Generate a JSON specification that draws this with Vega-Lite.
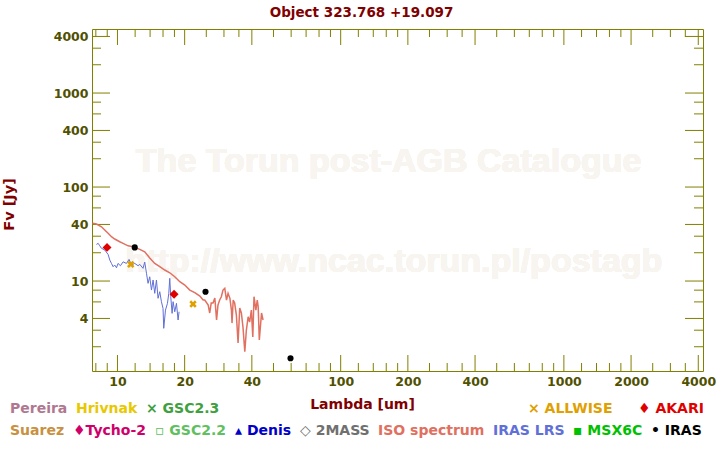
{
  "$schema": "https://vega.github.io/schema/vega-lite/v6.json",
  "autosize": {"type": "none"},
  "width": 611,
  "height": 342,
  "padding": {"left": 92, "top": 29, "right": 17, "bottom": 79},
  "background": "white",
  "config": {"view": {"stroke": "#808000", "strokeWidth": 1}, "font": "DejaVu Sans"},
  "title": {"text": "Object 323.768 +19.097", "color": "#800000", "font": "DejaVu Sans", "fontSize": 13.5, "fontWeight": "bold", "anchor": "middle", "dx": -36, "offset": 8},
  "data": {"values": [
    {"source": "ISO spectrum", "lambda": 7.73, "flux": 41.1},
    {"source": "ISO spectrum", "lambda": 8.05, "flux": 40.4},
    {"source": "ISO spectrum", "lambda": 8.48, "flux": 37.8},
    {"source": "ISO spectrum", "lambda": 8.77, "flux": 34.9},
    {"source": "ISO spectrum", "lambda": 9.08, "flux": 32.2},
    {"source": "ISO spectrum", "lambda": 9.40, "flux": 29.6},
    {"source": "ISO spectrum", "lambda": 9.72, "flux": 28.0},
    {"source": "ISO spectrum", "lambda": 10.24, "flux": 26.2},
    {"source": "ISO spectrum", "lambda": 10.6, "flux": 25.2},
    {"source": "ISO spectrum", "lambda": 11.16, "flux": 23.7},
    {"source": "ISO spectrum", "lambda": 11.75, "flux": 23.2},
    {"source": "ISO spectrum", "lambda": 12.59, "flux": 21.7},
    {"source": "ISO spectrum", "lambda": 13.25, "flux": 20.5},
    {"source": "ISO spectrum", "lambda": 13.95, "flux": 17.6},
    {"source": "ISO spectrum", "lambda": 14.69, "flux": 15.4},
    {"source": "ISO spectrum", "lambda": 15.47, "flux": 14.2},
    {"source": "ISO spectrum", "lambda": 16.29, "flux": 13.1},
    {"source": "ISO spectrum", "lambda": 17.15, "flux": 12.25},
    {"source": "ISO spectrum", "lambda": 18.06, "flux": 11.1},
    {"source": "ISO spectrum", "lambda": 19.02, "flux": 9.83},
    {"source": "ISO spectrum", "lambda": 20.03, "flux": 9.07},
    {"source": "ISO spectrum", "lambda": 21.09, "flux": 8.02},
    {"source": "ISO spectrum", "lambda": 22.2, "flux": 7.54},
    {"source": "ISO spectrum", "lambda": 23.4, "flux": 6.92},
    {"source": "ISO spectrum", "lambda": 24.2, "flux": 6.28},
    {"source": "ISO spectrum", "lambda": 24.6, "flux": 6.28},
    {"source": "ISO spectrum", "lambda": 25.5, "flux": 5.55},
    {"source": "ISO spectrum", "lambda": 25.9, "flux": 4.57},
    {"source": "ISO spectrum", "lambda": 26.3, "flux": 5.83},
    {"source": "ISO spectrum", "lambda": 26.8, "flux": 5.83},
    {"source": "ISO spectrum", "lambda": 27.3, "flux": 6.6},
    {"source": "ISO spectrum", "lambda": 27.8, "flux": 3.85},
    {"source": "ISO spectrum", "lambda": 28.2, "flux": 5.55},
    {"source": "ISO spectrum", "lambda": 28.7, "flux": 6.28},
    {"source": "ISO spectrum", "lambda": 29.2, "flux": 6.81},
    {"source": "ISO spectrum", "lambda": 29.7, "flux": 8.02},
    {"source": "ISO spectrum", "lambda": 30.25, "flux": 8.36},
    {"source": "ISO spectrum", "lambda": 30.8, "flux": 6.28},
    {"source": "ISO spectrum", "lambda": 31.3, "flux": 7.4},
    {"source": "ISO spectrum", "lambda": 31.9, "flux": 6.55},
    {"source": "ISO spectrum", "lambda": 32.4, "flux": 4.91},
    {"source": "ISO spectrum", "lambda": 32.6, "flux": 3.57},
    {"source": "ISO spectrum", "lambda": 33.0, "flux": 6.28},
    {"source": "ISO spectrum", "lambda": 33.5, "flux": 5.83},
    {"source": "ISO spectrum", "lambda": 34.1, "flux": 4.35},
    {"source": "ISO spectrum", "lambda": 34.7, "flux": 2.19},
    {"source": "ISO spectrum", "lambda": 35.3, "flux": 5.16},
    {"source": "ISO spectrum", "lambda": 35.9, "flux": 4.57},
    {"source": "ISO spectrum", "lambda": 36.5, "flux": 3.24},
    {"source": "ISO spectrum", "lambda": 37.2, "flux": 1.77},
    {"source": "ISO spectrum", "lambda": 37.8, "flux": 3.01},
    {"source": "ISO spectrum", "lambda": 38.5, "flux": 4.17},
    {"source": "ISO spectrum", "lambda": 39.1, "flux": 3.66},
    {"source": "ISO spectrum", "lambda": 39.8, "flux": 4.91},
    {"source": "ISO spectrum", "lambda": 40.4, "flux": 2.54},
    {"source": "ISO spectrum", "lambda": 40.9, "flux": 6.81},
    {"source": "ISO spectrum", "lambda": 41.7, "flux": 4.91},
    {"source": "ISO spectrum", "lambda": 42.3, "flux": 6.28},
    {"source": "ISO spectrum", "lambda": 42.7, "flux": 5.33},
    {"source": "ISO spectrum", "lambda": 43.2, "flux": 2.36},
    {"source": "ISO spectrum", "lambda": 44.2, "flux": 4.57},
    {"source": "ISO spectrum", "lambda": 44.9, "flux": 3.85},
    {"source": "IRAS LRS", "lambda": 8.05, "flux": 24.5},
    {"source": "IRAS LRS", "lambda": 8.19, "flux": 25.2},
    {"source": "IRAS LRS", "lambda": 8.33, "flux": 23.7},
    {"source": "IRAS LRS", "lambda": 8.48, "flux": 22.3},
    {"source": "IRAS LRS", "lambda": 8.77, "flux": 21.4},
    {"source": "IRAS LRS", "lambda": 9.08, "flux": 19.2},
    {"source": "IRAS LRS", "lambda": 9.24, "flux": 16.7},
    {"source": "IRAS LRS", "lambda": 9.40, "flux": 15.4},
    {"source": "IRAS LRS", "lambda": 9.56, "flux": 14.2},
    {"source": "IRAS LRS", "lambda": 9.72, "flux": 14.8},
    {"source": "IRAS LRS", "lambda": 9.90, "flux": 13.85},
    {"source": "IRAS LRS", "lambda": 10.06, "flux": 15.4},
    {"source": "IRAS LRS", "lambda": 10.31, "flux": 14.55},
    {"source": "IRAS LRS", "lambda": 10.6, "flux": 16.0},
    {"source": "IRAS LRS", "lambda": 10.97, "flux": 15.4},
    {"source": "IRAS LRS", "lambda": 11.27, "flux": 17.0},
    {"source": "IRAS LRS", "lambda": 11.55, "flux": 14.8},
    {"source": "IRAS LRS", "lambda": 11.95, "flux": 15.4},
    {"source": "IRAS LRS", "lambda": 12.37, "flux": 14.55},
    {"source": "IRAS LRS", "lambda": 12.59, "flux": 15.05},
    {"source": "IRAS LRS", "lambda": 13.02, "flux": 13.65},
    {"source": "IRAS LRS", "lambda": 13.25, "flux": 15.9},
    {"source": "IRAS LRS", "lambda": 13.49, "flux": 12.1},
    {"source": "IRAS LRS", "lambda": 13.71, "flux": 9.45},
    {"source": "IRAS LRS", "lambda": 13.95, "flux": 11.1},
    {"source": "IRAS LRS", "lambda": 14.2, "flux": 8.02},
    {"source": "IRAS LRS", "lambda": 14.44, "flux": 10.25},
    {"source": "IRAS LRS", "lambda": 14.69, "flux": 7.4},
    {"source": "IRAS LRS", "lambda": 14.95, "flux": 10.25},
    {"source": "IRAS LRS", "lambda": 15.2, "flux": 6.55},
    {"source": "IRAS LRS", "lambda": 15.47, "flux": 7.7},
    {"source": "IRAS LRS", "lambda": 15.74, "flux": 6.03},
    {"source": "IRAS LRS", "lambda": 16.0, "flux": 5.12},
    {"source": "IRAS LRS", "lambda": 16.12, "flux": 3.14},
    {"source": "IRAS LRS", "lambda": 16.41, "flux": 4.91},
    {"source": "IRAS LRS", "lambda": 16.75, "flux": 5.79},
    {"source": "IRAS LRS", "lambda": 16.98, "flux": 7.4},
    {"source": "IRAS LRS", "lambda": 17.15, "flux": 10.68},
    {"source": "IRAS LRS", "lambda": 17.33, "flux": 6.81},
    {"source": "IRAS LRS", "lambda": 17.57, "flux": 4.53},
    {"source": "IRAS LRS", "lambda": 17.75, "flux": 6.03},
    {"source": "IRAS LRS", "lambda": 18.06, "flux": 4.71},
    {"source": "IRAS LRS", "lambda": 18.38, "flux": 5.79},
    {"source": "IRAS LRS", "lambda": 18.69, "flux": 3.85},
    {"source": "IRAS LRS", "lambda": 18.88, "flux": 4.71},
    {"source": "AKARI", "lambda": 8.98, "flux": 22.8},
    {"source": "AKARI", "lambda": 17.93, "flux": 7.22},
    {"source": "IRAS", "lambda": 11.95, "flux": 22.8},
    {"source": "IRAS", "lambda": 24.8, "flux": 7.69},
    {"source": "IRAS", "lambda": 59.6, "flux": 1.51},
    {"source": "ALLWISE", "lambda": 11.47, "flux": 15.05},
    {"source": "ALLWISE", "lambda": 21.8, "flux": 5.69}
  ]},
  "layer": [
    {
      "mark": {"type": "text", "font": "Liberation Sans", "fontWeight": "bold", "fontSize": 34, "color": "#f8f5f1", "align": "center", "baseline": "middle"},
      "encoding": {
        "x": {"datum": 164, "type": "quantitative", "scale": {"type": "log", "domain": [7.69, 4200], "nice": false},
          "axis": {"orient": "bottom", "values": [10,20,40,100,200,400,1000,2000,4000], "ticks": false, "domain": false,
            "labelExpr": "format(datum.value, 'd')",
            "labelPadding": 4, "labelFont": "DejaVu Sans", "labelFontSize": 12.5, "labelFontWeight": "bold", "labelColor": "#505000",
            "labelFlush": false, "labelOverlap": false, "labelBound": false, "grid": false,
            "title": "Lambda [um]", "titleFont": "DejaVu Sans", "titleFontSize": 14, "titleFontWeight": "bold", "titleColor": "#800000",
            "titleX": 270, "titleY": 33, "titleBaseline": "middle", "titleAlign": "center"}},
        "y": {"datum": 185, "type": "quantitative", "scale": {"type": "log", "domain": [1.104, 4800], "nice": false},
          "axis": {"orient": "left", "values": [4,10,40,100,400,1000,4000], "ticks": false, "domain": false,
            "labelExpr": "format(datum.value, 'd')",
            "labelPadding": 4, "labelFont": "DejaVu Sans", "labelFontSize": 12.5, "labelFontWeight": "bold", "labelColor": "#505000",
            "labelFlush": false, "labelOverlap": false, "labelBound": false, "grid": false,
            "title": "Fv [Jy]", "titleFont": "DejaVu Sans", "titleFontSize": 14.5, "titleFontWeight": "bold", "titleColor": "#800000",
            "titleX": -83, "titleY": 175, "titleBaseline": "middle", "titleAlign": "center", "titleAngle": 270}},
        "text": {"value": "The Torun post-AGB Catalogue"}
      }
    },
    {
      "mark": {"type": "text", "font": "Liberation Sans", "fontWeight": "bold", "fontSize": 34, "color": "#f8f5f1", "align": "center", "baseline": "middle"},
      "encoding": {
        "x": {"datum": 173, "type": "quantitative", "scale": {"type": "log", "domain": [7.69, 4200], "nice": false}},
        "y": {"datum": 15.9, "type": "quantitative", "scale": {"type": "log", "domain": [1.104, 4800], "nice": false}},
        "text": {"value": "http://www.ncac.torun.pl/postagb"}
      }
    },
    {
      "data": {"values": [
        {"v": 8, "major": 0}, {"v": 9, "major": 0}, {"v": 10, "major": 1}, {"v": 12, "major": 0}, {"v": 14, "major": 0},
        {"v": 16, "major": 0}, {"v": 18, "major": 0}, {"v": 20, "major": 1}, {"v": 25, "major": 0}, {"v": 30, "major": 0},
        {"v": 35, "major": 0}, {"v": 40, "major": 1}, {"v": 50, "major": 0}, {"v": 60, "major": 0}, {"v": 70, "major": 0},
        {"v": 80, "major": 0}, {"v": 90, "major": 0}, {"v": 100, "major": 1}, {"v": 120, "major": 0}, {"v": 140, "major": 0},
        {"v": 160, "major": 0}, {"v": 180, "major": 0}, {"v": 200, "major": 1}, {"v": 250, "major": 0}, {"v": 300, "major": 0},
        {"v": 350, "major": 0}, {"v": 400, "major": 1}, {"v": 500, "major": 0}, {"v": 600, "major": 0}, {"v": 700, "major": 0},
        {"v": 800, "major": 0}, {"v": 900, "major": 0}, {"v": 1000, "major": 1}, {"v": 1200, "major": 0}, {"v": 1400, "major": 0},
        {"v": 1600, "major": 0}, {"v": 1800, "major": 0}, {"v": 2000, "major": 1}, {"v": 2500, "major": 0}, {"v": 3000, "major": 0},
        {"v": 3500, "major": 0}, {"v": 4000, "major": 1}
      ]},
      "layer": [
        {
          "transform": [{"filter": "datum.major == 1"}],
          "mark": {"type": "point", "shape": "M0,-1L0,1", "filled": false, "strokeWidth": 1, "color": "#808000", "opacity": 1, "size": 256, "yOffset": -8},
          "encoding": {
            "x": {"field": "v", "type": "quantitative", "scale": {"type": "log", "domain": [7.69, 4200], "nice": false}},
            "y": {"datum": 1.104, "type": "quantitative", "scale": {"type": "log", "domain": [1.104, 4800], "nice": false}}
          }
        },
        {
          "transform": [{"filter": "datum.major == 0"}],
          "mark": {"type": "point", "shape": "M0,-1L0,1", "filled": false, "strokeWidth": 1, "color": "#808000", "opacity": 1, "size": 64, "yOffset": -4},
          "encoding": {
            "x": {"field": "v", "type": "quantitative", "scale": {"type": "log", "domain": [7.69, 4200], "nice": false}},
            "y": {"datum": 1.104, "type": "quantitative", "scale": {"type": "log", "domain": [1.104, 4800], "nice": false}}
          }
        },
        {
          "transform": [{"filter": "datum.major == 1"}],
          "mark": {"type": "point", "shape": "M0,-1L0,1", "filled": false, "strokeWidth": 1, "color": "#808000", "opacity": 1, "size": 256, "yOffset": 8},
          "encoding": {
            "x": {"field": "v", "type": "quantitative", "scale": {"type": "log", "domain": [7.69, 4200], "nice": false}},
            "y": {"datum": 4800, "type": "quantitative", "scale": {"type": "log", "domain": [1.104, 4800], "nice": false}}
          }
        },
        {
          "transform": [{"filter": "datum.major == 0"}],
          "mark": {"type": "point", "shape": "M0,-1L0,1", "filled": false, "strokeWidth": 1, "color": "#808000", "opacity": 1, "size": 64, "yOffset": 4},
          "encoding": {
            "x": {"field": "v", "type": "quantitative", "scale": {"type": "log", "domain": [7.69, 4200], "nice": false}},
            "y": {"datum": 4800, "type": "quantitative", "scale": {"type": "log", "domain": [1.104, 4800], "nice": false}}
          }
        }
      ]
    },
    {
      "data": {"values": [
        {"v": 2, "major": 0}, {"v": 3, "major": 0}, {"v": 4, "major": 1}, {"v": 6, "major": 0}, {"v": 8, "major": 0},
        {"v": 10, "major": 1}, {"v": 20, "major": 0}, {"v": 30, "major": 0}, {"v": 40, "major": 1}, {"v": 60, "major": 0},
        {"v": 80, "major": 0}, {"v": 100, "major": 1}, {"v": 200, "major": 0}, {"v": 300, "major": 0}, {"v": 400, "major": 1},
        {"v": 600, "major": 0}, {"v": 800, "major": 0}, {"v": 1000, "major": 1}, {"v": 2000, "major": 0}, {"v": 3000, "major": 0},
        {"v": 4000, "major": 1}
      ]},
      "layer": [
        {
          "transform": [{"filter": "datum.major == 1"}],
          "mark": {"type": "point", "shape": "M-1,0L1,0", "filled": false, "strokeWidth": 1, "color": "#808000", "opacity": 1, "size": 324, "xOffset": 9},
          "encoding": {
            "y": {"field": "v", "type": "quantitative", "scale": {"type": "log", "domain": [1.104, 4800], "nice": false}},
            "x": {"datum": 7.69, "type": "quantitative", "scale": {"type": "log", "domain": [7.69, 4200], "nice": false}}
          }
        },
        {
          "transform": [{"filter": "datum.major == 0"}],
          "mark": {"type": "point", "shape": "M-1,0L1,0", "filled": false, "strokeWidth": 1, "color": "#808000", "opacity": 1, "size": 81, "xOffset": 4.5},
          "encoding": {
            "y": {"field": "v", "type": "quantitative", "scale": {"type": "log", "domain": [1.104, 4800], "nice": false}},
            "x": {"datum": 7.69, "type": "quantitative", "scale": {"type": "log", "domain": [7.69, 4200], "nice": false}}
          }
        },
        {
          "transform": [{"filter": "datum.major == 1"}],
          "mark": {"type": "point", "shape": "M-1,0L1,0", "filled": false, "strokeWidth": 1, "color": "#808000", "opacity": 1, "size": 324, "xOffset": -9},
          "encoding": {
            "y": {"field": "v", "type": "quantitative", "scale": {"type": "log", "domain": [1.104, 4800], "nice": false}},
            "x": {"datum": 4200, "type": "quantitative", "scale": {"type": "log", "domain": [7.69, 4200], "nice": false}}
          }
        },
        {
          "transform": [{"filter": "datum.major == 0"}],
          "mark": {"type": "point", "shape": "M-1,0L1,0", "filled": false, "strokeWidth": 1, "color": "#808000", "opacity": 1, "size": 81, "xOffset": -4.5},
          "encoding": {
            "y": {"field": "v", "type": "quantitative", "scale": {"type": "log", "domain": [1.104, 4800], "nice": false}},
            "x": {"datum": 4200, "type": "quantitative", "scale": {"type": "log", "domain": [7.69, 4200], "nice": false}}
          }
        }
      ]
    },
    {
      "transform": [{"filter": "datum.source == 'ISO spectrum'"}],
      "mark": {"type": "line", "strokeWidth": 1.5, "clip": true},
      "encoding": {
        "x": {"field": "lambda", "type": "quantitative", "scale": {"type": "log", "domain": [7.69, 4200], "nice": false}},
        "y": {"field": "flux", "type": "quantitative", "scale": {"type": "log", "domain": [1.104, 4800], "nice": false}},
        "color": {"field": "source", "type": "nominal",
          "scale": {"domain": ["Suarez","Tycho-2","GSC2.2","Denis","2MASS","ISO spectrum","IRAS LRS","MSX6C","IRAS"],
                    "range": ["#c89040","#d0006a","#60c060","#0000c8","#707070","#e07060","#6070d8","#00c000","#000000"]},
          "legend": {"orient": "none", "legendX": -82, "legendY": 395, "direction": "horizontal",
            "columnPadding": 8, "symbolType": "circle", "symbolSize": 0, "symbolOpacity": 0, "symbolStrokeWidth": 0,
            "labelOffset": -14, "labelFont": "DejaVu Sans", "labelFontSize": 14, "labelFontWeight": "bold", "labelLimit": 600, "title": null,
            "labelExpr": "datum.value == 'Tycho-2' ? '♦Tycho-2' : datum.value == 'GSC2.2' ? '▫ GSC2.2' : datum.value == 'Denis' ? '▴ Denis' : datum.value == '2MASS' ? '◇ 2MASS' : datum.value == 'MSX6C' ? '▪ MSX6C' : datum.value == 'IRAS' ? '• IRAS' : datum.value",
            "encode": {"labels": {"update": {"fill": {"scale": "color", "field": "value"}}}}}}
      }
    },
    {
      "transform": [{"filter": "datum.source == 'IRAS LRS'"}],
      "mark": {"type": "line", "strokeWidth": 1, "clip": true},
      "encoding": {
        "x": {"field": "lambda", "type": "quantitative", "scale": {"type": "log", "domain": [7.69, 4200], "nice": false}},
        "y": {"field": "flux", "type": "quantitative", "scale": {"type": "log", "domain": [1.104, 4800], "nice": false}},
        "color": {"field": "source", "type": "nominal",
          "scale": {"domain": ["Suarez","Tycho-2","GSC2.2","Denis","2MASS","ISO spectrum","IRAS LRS","MSX6C","IRAS"],
                    "range": ["#c89040","#d0006a","#60c060","#0000c8","#707070","#e07060","#6070d8","#00c000","#000000"]},
          "legend": null}
      }
    },
    {
      "transform": [{"filter": "datum.source == 'AKARI'"}],
      "mark": {"type": "point", "shape": "diamond", "filled": true, "size": 80, "opacity": 1, "strokeWidth": 0, "clip": true},
      "encoding": {
        "x": {"field": "lambda", "type": "quantitative", "scale": {"type": "log", "domain": [7.69, 4200], "nice": false}},
        "y": {"field": "flux", "type": "quantitative", "scale": {"type": "log", "domain": [1.104, 4800], "nice": false}},
        "fill": {"field": "source", "type": "nominal",
          "scale": {"domain": ["Pereira","Hrivnak","GSC2.3","ALLWISE","AKARI"],
                    "range": ["#b07890","#e8c800","#40a040","#e0a000","#e00000"]},
          "legend": {"orient": "none", "legendX": -82, "legendY": 373, "direction": "horizontal",
            "columnPadding": 8, "symbolType": "circle", "symbolSize": 0, "symbolOpacity": 0, "symbolStrokeWidth": 0,
            "labelOffset": -14, "labelFont": "DejaVu Sans", "labelFontSize": 14, "labelFontWeight": "bold", "labelLimit": 600, "title": null,
            "labelExpr": "datum.value == 'GSC2.3' ? '× GSC2.3' : datum.value == 'ALLWISE' ? '× ALLWISE' : datum.value == 'AKARI' ? '♦ AKARI' : datum.value",
            "encode": {"labels": {"update": {"fill": {"scale": "fill", "field": "value"}, "dx": {"signal": "datum.value == 'ALLWISE' ? 300 : datum.value == 'AKARI' ? 17 : 0"}}}}}}
      }
    },
    {
      "transform": [{"filter": "datum.source == 'ALLWISE'"}],
      "mark": {"type": "point", "shape": "M-1,-0.5L-0.5,-1L0,-0.5L0.5,-1L1,-0.5L0.5,0L1,0.5L0.5,1L0,0.5L-0.5,1L-1,0.5L-0.5,0Z", "filled": true, "size": 55, "strokeWidth": 0, "opacity": 1, "clip": true},
      "encoding": {
        "x": {"field": "lambda", "type": "quantitative", "scale": {"type": "log", "domain": [7.69, 4200], "nice": false}},
        "y": {"field": "flux", "type": "quantitative", "scale": {"type": "log", "domain": [1.104, 4800], "nice": false}},
        "fill": {"field": "source", "type": "nominal",
          "scale": {"domain": ["Pereira","Hrivnak","GSC2.3","ALLWISE","AKARI"],
                    "range": ["#b07890","#e8c800","#40a040","#e0a000","#e00000"]},
          "legend": null}
      }
    },
    {
      "transform": [{"filter": "datum.source == 'IRAS'"}],
      "mark": {"type": "point", "shape": "circle", "filled": true, "size": 38, "opacity": 1, "strokeWidth": 0, "clip": true},
      "encoding": {
        "x": {"field": "lambda", "type": "quantitative", "scale": {"type": "log", "domain": [7.69, 4200], "nice": false}},
        "y": {"field": "flux", "type": "quantitative", "scale": {"type": "log", "domain": [1.104, 4800], "nice": false}},
        "color": {"field": "source", "type": "nominal",
          "scale": {"domain": ["Suarez","Tycho-2","GSC2.2","Denis","2MASS","ISO spectrum","IRAS LRS","MSX6C","IRAS"],
                    "range": ["#c89040","#d0006a","#60c060","#0000c8","#707070","#e07060","#6070d8","#00c000","#000000"]},
          "legend": null}
      }
    }
  ]
}
